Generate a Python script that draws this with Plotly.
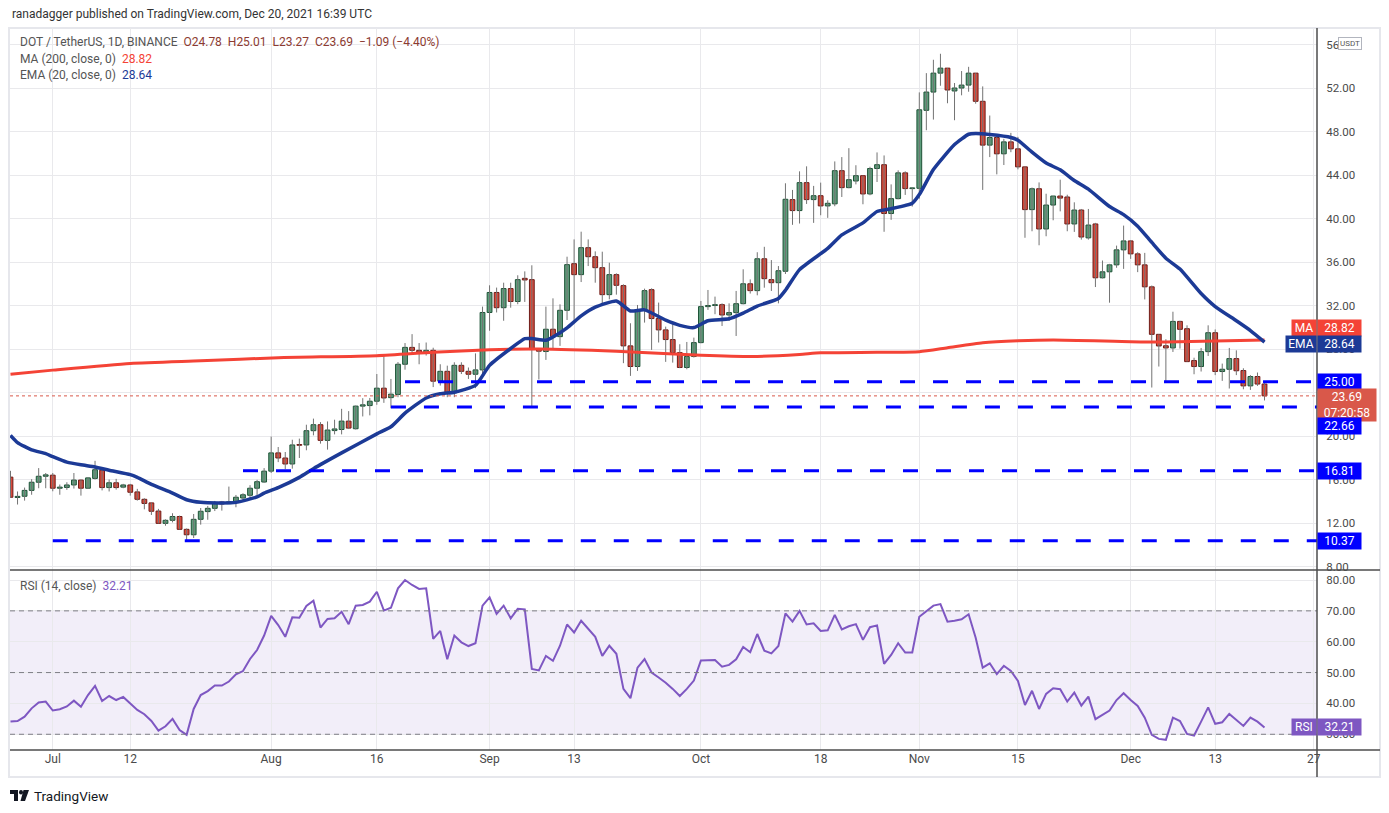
import plotly.graph_objects as go
import pandas as pd

# ---------------- data ----------------
start_date = "2021-06-25"
n_days = 179
dates = pd.date_range(start_date, periods=n_days, freq="D")

opens = [16.22, 14.35, 14.46, 15.0, 15.75, 16.3, 16.4, 15.2, 15.27, 15.5,
         15.95, 15.2, 16.1, 16.86, 15.26, 15.7, 15.3, 15.5, 14.86, 14.18,
         13.85, 13.1, 11.97, 12.25, 12.6, 11.42, 10.92, 12.34, 13.05, 13.35,
         13.93, 13.78, 13.9, 14.3, 14.55, 15.2, 15.77, 16.77, 18.45, 17.98,
         17.43, 19.2, 19.18, 20.49, 21.04, 19.6, 20.5, 20.6, 21.37, 20.67,
         22.75, 22.8, 23.2, 24.4, 23.53, 23.82, 26.6, 28.15, 27.88, 27.7,
         27.88, 25.04, 25.95, 23.97, 26.5, 25.95, 25.68, 26.08, 31.36, 33.2,
         31.8, 33.56, 32.37, 34.5, 34.38, 27.97, 27.77, 29.82, 29.14, 31.56,
         35.85, 34.84, 37.32, 36.49, 35.48, 33.0, 34.84, 33.83, 28.29, 26.39,
         31.62, 33.46, 30.8, 29.76, 28.87, 27.67, 26.3, 27.31, 28.59, 31.9,
         32.0, 32.08, 31.13, 31.35, 32.17, 34.0, 33.37, 36.3, 34.38, 34.1,
         35.15, 41.74, 40.73, 43.3, 41.74, 42.1, 41.16, 41.35, 44.4, 42.84,
         43.45, 43.94, 42.26, 44.6, 44.95, 40.46, 41.83, 44.2, 42.75, 42.78,
         49.95, 51.63, 53.37, 53.83, 51.73, 52.0, 52.27, 53.37, 50.78, 46.75,
         47.45, 45.95, 47.05, 46.41, 44.75, 40.82, 42.74, 39.04, 41.24, 42.07,
         41.98, 39.5, 40.78, 38.22, 39.5, 34.55, 35.1, 35.74, 37.12, 37.94,
         36.75, 35.74, 33.72, 29.35, 28.3, 28.1, 30.54, 29.87, 26.94, 26.39,
         27.76, 29.5, 25.93, 26.14, 27.12, 26.02, 24.61, 25.47, 24.78]
highs = [16.8, 14.9, 15.26, 16.03, 17.05, 16.6, 16.6, 15.54, 15.75, 16.6,
         16.0, 16.2, 17.72, 16.9, 16.0, 16.06, 15.6, 15.6, 15.14, 14.28,
         13.85, 13.3, 12.34, 12.9, 12.68, 11.5, 12.83, 13.38, 13.57, 14.03,
         14.03, 15.35, 14.58, 14.74, 15.48, 15.97, 17.05, 19.95, 18.99, 18.53,
         19.66, 19.76, 21.04, 21.6, 21.28, 21.34, 21.5, 22.5, 22.29, 22.8,
         23.48, 23.5, 25.7, 27.45, 25.25, 26.8, 28.55, 29.37, 28.55, 28.6,
         28.12, 26.6, 26.47, 26.78, 26.78, 26.3, 27.6, 31.9, 33.86, 33.65,
         34.1, 34.1, 34.78, 35.14, 35.7, 28.0, 31.9, 32.66, 32.11, 36.49,
         38.08, 38.79, 38.08, 36.98, 36.95, 35.94, 34.96, 33.95, 30.37, 32.05,
         33.55, 33.58, 32.27, 30.06, 30.28, 28.44, 28.65, 29.05, 32.42, 33.43,
         32.82, 32.2, 32.2, 33.34, 35.33, 34.4, 36.9, 37.4, 36.18, 35.63,
         43.24, 42.63, 44.34, 44.8, 43.0, 43.3, 41.68, 45.25, 45.65, 46.47,
         44.9, 43.94, 44.76, 46.08, 45.8, 43.14, 44.43, 44.34, 42.84, 51.6,
         53.37, 54.6, 55.15, 53.83, 52.46, 53.56, 53.95, 53.37, 52.15, 49.47,
         47.63, 47.33, 47.88, 47.51, 44.76, 42.85, 43.32, 42.28, 42.07, 43.57,
         42.19, 41.49, 40.88, 40.88, 39.6, 36.14, 35.83, 37.51, 39.35, 38.0,
         36.9, 36.84, 33.84, 29.35, 28.9, 31.43, 30.6, 30.18, 27.2, 28.1,
         30.18, 29.8, 26.66, 28.1, 27.88, 26.23, 25.6, 25.84, 25.01]
lows = [14.3, 13.7, 14.06, 14.6, 15.2, 15.2, 14.92, 14.6, 15.05, 15.17,
        14.52, 15.14, 16.0, 15.0, 14.9, 15.07, 15.2, 14.52, 14.06, 13.26,
        12.74, 11.97, 11.75, 12.06, 11.42, 10.43, 10.62, 11.85, 12.3, 13.1,
        13.14, 13.75, 13.45, 13.97, 14.26, 14.42, 15.7, 16.6, 17.6, 16.95,
        17.0, 17.98, 18.69, 20.06, 19.3, 18.75, 20.15, 20.15, 20.64, 20.6,
        21.8, 21.9, 22.87, 23.05, 22.56, 23.57, 26.1, 27.54, 26.6, 27.4,
        24.5, 24.64, 23.57, 23.57, 25.7, 25.25, 24.4, 25.7, 29.68, 31.36,
        30.6, 31.8, 32.12, 32.33, 22.7, 25.2, 27.0, 28.04, 28.29, 30.67,
        30.67, 34.16, 35.63, 34.1, 32.2, 32.57, 33.0, 26.7, 25.53, 25.99,
        30.43, 27.92, 28.6, 26.82, 26.75, 26.24, 26.14, 27.22, 28.53, 31.6,
        31.2, 30.12, 30.58, 29.2, 32.11, 33.1, 32.94, 33.64, 33.34, 32.2,
        34.9, 39.42, 39.54, 41.34, 39.6, 40.3, 40.06, 41.13, 41.98, 42.78,
        43.14, 41.31, 42.14, 43.36, 38.78, 39.88, 41.77, 42.17, 41.1, 41.83,
        48.12, 49.1, 52.21, 50.6, 49.04, 51.33, 51.66, 50.56, 42.63, 45.65,
        44.06, 44.92, 46.1, 44.52, 38.23, 38.83, 37.54, 38.37, 39.84, 40.66,
        38.83, 38.77, 38.06, 38.06, 33.7, 34.49, 32.26, 35.47, 35.37, 36.29,
        35.07, 32.56, 24.46, 26.39, 24.92, 27.73, 28.04, 26.84, 25.68, 25.93,
        27.36, 25.6, 25.07, 24.37, 25.6, 24.3, 24.24, 24.61, 23.27]
closes = [14.37, 14.45, 15.0, 15.75, 16.3, 16.43, 15.2, 15.3, 15.5, 15.95,
          15.2, 16.15, 16.9, 15.26, 15.7, 15.26, 15.5, 14.83, 14.18, 13.8,
          13.08, 11.97, 12.25, 12.6, 11.42, 10.92, 12.34, 13.08, 13.35, 13.82,
          13.75, 13.95, 14.37, 14.6, 15.2, 15.8, 16.77, 18.45, 17.98, 17.43,
          19.18, 19.15, 20.49, 21.04, 19.6, 20.55, 20.65, 21.37, 20.73, 22.75,
          22.87, 23.2, 24.4, 23.5, 23.85, 26.6, 28.15, 27.88, 27.7, 27.88,
          25.04, 25.95, 23.97, 26.5, 25.95, 25.68, 26.08, 31.36, 33.2, 31.8,
          33.56, 32.37, 34.38, 34.35, 27.95, 27.8, 29.82, 29.14, 31.56, 35.76,
          34.84, 37.32, 36.49, 35.48, 33.0, 34.84, 33.86, 28.29, 26.39, 31.62,
          33.37, 30.8, 29.76, 28.87, 27.67, 26.3, 27.31, 28.59, 31.9, 32.0,
          32.08, 31.13, 31.35, 32.17, 34.0, 33.37, 36.3, 34.47, 34.1, 35.2,
          41.77, 40.73, 43.3, 41.74, 42.1, 41.16, 41.4, 44.4, 42.84, 43.57,
          43.94, 42.26, 44.6, 44.95, 40.46, 41.83, 44.2, 42.75, 42.8, 50.0,
          51.63, 53.37, 53.83, 51.82, 52.0, 52.27, 53.37, 50.78, 46.75, 47.45,
          45.95, 47.05, 46.41, 44.75, 40.82, 42.74, 39.04, 41.24, 42.07, 41.88,
          39.5, 40.78, 38.3, 39.4, 34.55, 35.1, 35.74, 37.12, 37.94, 36.75,
          35.74, 33.72, 29.35, 28.28, 28.1, 30.54, 29.81, 26.84, 26.39, 27.76,
          29.5, 25.93, 26.14, 27.12, 26.0, 24.61, 25.47, 24.78, 23.69]

# EMA(20) readings: day offset from start -> value
ema_idx = [0, 1, 3, 5, 6, 8, 10, 12, 14, 17, 18, 20, 23, 25, 27, 30, 32, 35, 36, 38,
           41, 43, 47, 52, 54, 56, 59, 61, 63, 66, 68, 71, 73, 74, 76, 77, 79, 81, 83, 86,
           88, 90, 93, 95, 97, 99, 102, 104, 106, 109, 110, 112, 116, 118, 121, 123, 125,
           128, 129, 131, 134, 136, 137, 139, 142, 143, 145, 147, 149, 151, 153, 156, 158,
           160, 162, 164, 166, 169, 171, 174, 176, 178]
ema_val = [20.06, 19.4, 18.72, 18.38, 18.1, 17.6, 17.35, 17.16, 16.86, 16.45, 16.2, 15.55,
           14.75, 14.14, 13.9, 13.85, 13.9, 14.4, 14.75, 15.25, 16.2, 17.0, 18.45, 20.2,
           20.85, 22.1, 23.5, 23.88, 24.03, 24.65, 26.5, 28.05, 28.95, 28.96, 28.8, 29.1,
           29.95, 31.05, 31.85, 32.42, 31.5, 31.6, 30.65, 30.18, 29.97, 30.6, 30.78, 31.3,
           31.95, 32.65, 33.4, 35.3, 37.25, 38.5, 39.6, 40.65, 40.9, 41.4, 42.2, 44.5,
           46.8, 47.75, 47.82, 47.72, 47.45, 47.2, 46.1, 45.1, 44.48, 43.5, 42.7, 41.1,
           40.36, 39.3, 37.8, 36.35, 35.35, 33.1, 31.9, 30.6, 29.7, 28.64]

# MA(200) readings
ma_idx = [0, 6, 17, 27, 38, 52, 60, 68, 75, 86, 98, 106, 112, 115, 123, 129, 133, 138,
          143, 148, 159, 164, 178]
ma_val = [25.69, 26.06, 26.68, 26.92, 27.2, 27.39, 27.7, 27.94, 28.0, 27.8, 27.43, 27.32,
          27.5, 27.65, 27.7, 27.76, 28.12, 28.57, 28.75, 28.83, 28.68, 28.65, 28.82]

rsi = [34.1, 34.3, 35.7, 38.4, 40.3, 40.6, 37.7, 38.1, 39.0, 40.9,
       38.9, 42.7, 45.7, 40.8, 42.4, 41.1, 42.1, 40.0, 37.9, 36.5,
       34.3, 31.2, 32.6, 35.0, 31.4, 29.8, 38.2, 42.7, 44.0, 45.8,
       45.8, 47.1, 49.4, 50.5, 54.4, 57.3, 62.0, 68.4, 65.4, 61.6,
       67.9, 67.8, 71.6, 73.3, 64.6, 67.4, 67.6, 69.7, 65.7, 71.7,
       71.9, 73.0, 76.2, 70.1, 71.0, 77.3, 80.0, 78.4, 77.1, 77.3,
       60.9, 63.5, 54.3, 62.0, 59.8, 58.6, 59.5, 71.7, 74.4, 69.0,
       71.7, 67.6, 70.7, 70.5, 51.2, 50.7, 55.4, 53.8, 58.7, 65.6,
       63.0, 66.8, 64.3, 61.6, 55.4, 58.7, 56.1, 44.7, 41.7, 51.6,
       54.4, 50.0, 48.4, 46.7, 44.7, 42.4, 44.7, 47.4, 53.9, 54.0,
       54.1, 51.9, 52.5, 54.3, 58.3, 56.6, 62.5, 57.1, 56.2, 58.6,
       69.2, 66.5, 70.0, 65.6, 66.0, 63.5, 63.7, 68.7, 64.0, 65.0,
       65.7, 60.6, 64.7, 65.3, 52.8, 55.7, 59.5, 56.5, 56.5, 68.1,
       70.0, 71.7, 72.2, 66.5, 66.8, 67.3, 68.9, 61.3, 51.6, 53.0,
       49.5, 52.2, 50.5, 47.3, 39.5, 44.1, 38.2, 43.1, 44.9, 44.6,
       40.6, 43.5, 39.3, 42.2, 34.9, 36.3, 37.7, 41.1, 43.3, 41.1,
       39.2, 35.4, 29.8, 28.5, 28.2, 35.4, 34.3, 30.1, 29.6, 34.1,
       38.7, 33.4, 33.9, 36.6, 34.6, 32.7, 35.4, 34.1, 32.21]

levels = [25.00, 22.66, 16.81, 10.37]
level_start = ["2021-08-20", "2021-08-18", "2021-07-28", "2021-07-01"]

x_tickvals = ["2021-07-01", "2021-07-12", "2021-08-01", "2021-08-16", "2021-09-01",
              "2021-09-13", "2021-10-01", "2021-10-18", "2021-11-01", "2021-11-15",
              "2021-12-01", "2021-12-13", "2021-12-27"]
x_ticktext = ["Jul", "12", "Aug", "16", "Sep", "13", "Oct", "18", "Nov", "15", "Dec", "13", "27"]
price_ticks = [8, 12, 16, 20, 24, 28, 32, 36, 40, 44, 48, 52, 56]
rsi_ticks = [30, 40, 50, 60, 70, 80]
countdown = "07:20:58"

# ---------------- styling ----------------
PAGE_PAD = 8                       # default body margin of the html page
W, H = 1389 - PAGE_PAD, 813 - PAGE_PAD
# plot-area edges in screen pixels
L_PX, R_PX, T_PX, B_PX = 10, 1317, 28, 750
SPLIT_PX = 570
x_range = ["2021-06-24 22:18", "2021-12-27 10:48"]
price_range = [7.68, 57.52]
rsi_range = [24.9, 83.25]
FONT = "Roboto"

def px_x(x):
    return (x - L_PX) / (R_PX - L_PX)

def px_y(y):
    return (B_PX - y) / (B_PX - T_PX)

split = px_y(SPLIT_PX)

UP_FILL, UP_LINE = "#5d9d7b", "#1d5236"
DN_FILL, DN_LINE = "#d84a3b", "#6e1b17"
WICK = "#737373"
MA_COL = "#f44336"
EMA_COL = "#1c3a96"
LVL_COL = "#0000ff"
RSI_COL = "#7e57c2"
GRID = "#e9e9ec"
DARK = "#4d4d4d"

fig = go.Figure()

# wicks
wx, wy = [], []
for d, h, l in zip(dates, highs, lows):
    wx += [d, d, None]
    wy += [l, h, None]
fig.add_trace(go.Scatter(x=wx, y=wy, mode="lines", line=dict(color=WICK, width=1),
                         hoverinfo="skip", showlegend=False, xaxis="x", yaxis="y"))

# bodies
base = [min(o, c) for o, c in zip(opens, closes)]
height = [max(abs(c - o), 0.07) for o, c in zip(opens, closes)]
fills = [UP_FILL if c >= o else DN_FILL for o, c in zip(opens, closes)]
borders = [UP_LINE if c >= o else DN_LINE for o, c in zip(opens, closes)]
fig.add_trace(go.Bar(x=dates, y=height, base=base, width=0.68 * 86400000,
                     marker=dict(color=fills, line=dict(color=borders, width=1)),
                     showlegend=False, xaxis="x", yaxis="y"))

# MA 200 and EMA 20
fig.add_trace(go.Scatter(x=[dates[i] for i in ma_idx], y=ma_val, mode="lines",
                         line=dict(color=MA_COL, width=3, shape="spline", smoothing=0.6),
                         showlegend=False, xaxis="x", yaxis="y"))
fig.add_trace(go.Scatter(x=[dates[i] for i in ema_idx], y=ema_val, mode="lines",
                         line=dict(color=EMA_COL, width=3.5, shape="spline", smoothing=0.5),
                         showlegend=False, xaxis="x", yaxis="y"))

# horizontal levels
for lv, st in zip(levels, level_start):
    fig.add_trace(go.Scatter(x=[st, x_range[1]], y=[lv, lv], mode="lines",
                             line=dict(color=LVL_COL, width=3, dash="15px,18px"),
                             showlegend=False, xaxis="x", yaxis="y"))

# RSI
fig.add_trace(go.Scatter(x=dates, y=rsi, mode="lines", line=dict(color=RSI_COL, width=2),
                         showlegend=False, xaxis="x2", yaxis="y2"))

shapes = []
shapes.append(dict(type="rect", xref="paper", yref="y2", x0=0, x1=1, y0=30, y1=70,
                   fillcolor="rgba(126,87,194,0.10)", line=dict(width=0), layer="below"))
for v in [70, 50, 30]:
    shapes.append(dict(type="line", xref="paper", yref="y2", x0=0, x1=1, y0=v, y1=v,
                       line=dict(color="#7d7d85", width=1, dash="5px,4px")))
shapes.append(dict(type="line", xref="paper", yref="y", x0=0, x1=1,
                   y0=closes[-1], y1=closes[-1],
                   line=dict(color="#d9584a", width=1, dash="dot")))
shapes.append(dict(type="rect", xref="paper", yref="paper", x0=px_x(9), x1=px_x(1380),
                   y0=px_y(777), y1=px_y(28), line=dict(color="#e6e7ec", width=2),
                   fillcolor="rgba(0,0,0,0)", layer="below"))
for yy in [SPLIT_PX, B_PX]:
    shapes.append(dict(type="line", xref="paper", yref="paper", x0=px_x(10), x1=px_x(1380),
                       y0=px_y(yy), y1=px_y(yy), line=dict(color=DARK, width=1.5)))
shapes.append(dict(type="line", xref="paper", yref="paper", x0=1, x1=1,
                   y0=px_y(777), y1=px_y(28), line=dict(color=DARK, width=1.5)))

def prect(x0, y0, x1, y1):
    return dict(type="rect", xref="paper", yref="paper", x0=px_x(x0), x1=px_x(x1),
                y0=px_y(y1), y1=px_y(y0), fillcolor="#131722", line=dict(width=0))
shapes.append(prect(10, 790, 18, 794))
shapes.append(prect(14, 790, 18, 801))
shapes.append(dict(type="circle", xref="paper", yref="paper", x0=px_x(19), x1=px_x(23),
                   y0=px_y(794.5), y1=px_y(790), fillcolor="#131722", line=dict(width=0)))
shapes.append(dict(type="path", xref="paper", yref="paper",
                   path=f"M {px_x(23.5)},{px_y(790)} L {px_x(29)},{px_y(790)} "
                        f"L {px_x(25)},{px_y(801)} L {px_x(20.5)},{px_y(801)} Z",
                   fillcolor="#131722", line=dict(width=0)))

ann = []
NB = "\u00a0"
ann.append(dict(xref="paper", yref="paper", x=px_x(10), y=px_y(14), xanchor="left",
                yanchor="middle", showarrow=False,
                text="ranadagger published on TradingView.com, Dec 20, 2021 16:39 UTC",
                font=dict(family=FONT, size=12, color="#333333")))
chg = closes[-1] - closes[-2]
pct = chg / closes[-2] * 100
val_col = "#8c3b31"
ohlc = (f"<span style='color:{val_col}'>O{opens[-1]:.2f}{NB}{NB}H{highs[-1]:.2f}{NB}{NB}"
        f"L{lows[-1]:.2f}{NB}{NB}C{closes[-1]:.2f}{NB}{NB}"
        f"\u2212{abs(chg):.2f} (\u2212{abs(pct):.2f}%)</span>")
ann.append(dict(xref="paper", yref="paper", x=px_x(18), y=px_y(42), xanchor="left",
                yanchor="middle", showarrow=False,
                text=f"DOT / TetherUS, 1D, BINANCE{NB}{NB}" + ohlc,
                font=dict(family=FONT, size=12, color="#555555")))
ann.append(dict(xref="paper", yref="paper", x=px_x(18), y=px_y(59), xanchor="left",
                yanchor="middle", showarrow=False,
                text=f"MA (200, close, 0){NB}{NB}<span style='color:{MA_COL}'>{ma_val[-1]:.2f}</span>",
                font=dict(family=FONT, size=12, color="#555555")))
ann.append(dict(xref="paper", yref="paper", x=px_x(18), y=px_y(75), xanchor="left",
                yanchor="middle", showarrow=False,
                text=f"EMA (20, close, 0){NB}{NB}<span style='color:{EMA_COL}'>{ema_val[-1]:.2f}</span>",
                font=dict(family=FONT, size=12, color="#555555")))
ann.append(dict(xref="paper", yref="paper", x=px_x(18), y=px_y(586), xanchor="left",
                yanchor="middle", showarrow=False,
                text=f"RSI (14, close){NB}{NB}<span style='color:{RSI_COL}'>{rsi[-1]:.2f}</span>",
                font=dict(family=FONT, size=12, color="#555555")))
ann.append(dict(xref="paper", yref="paper", x=px_x(32), y=px_y(796), xanchor="left",
                yanchor="middle", showarrow=False, text="TradingView",
                font=dict(family=FONT, size=13.5, color="#131722")))
ann.append(dict(xref="paper", yref="paper", x=px_x(1350), y=px_y(43), xanchor="center",
                yanchor="middle", showarrow=False, text="USDT", bgcolor="white",
                bordercolor="#b2b5be", borderwidth=1, borderpad=1,
                font=dict(family=FONT, size=8, color="#555555")))

def price_box(yv, text, color, yref="y", yshift=0, anchor="middle", w=41):
    ann.append(dict(xref="paper", yref=yref, x=1, y=yv, xanchor="left", yanchor=anchor,
                    showarrow=False, text=text, bgcolor=color, width=w, borderpad=1,
                    yshift=yshift, align="center",
                    font=dict(family=FONT, size=12, color="white")))

def name_box(yv, text, color, w, yref="y", yshift=0):
    ann.append(dict(xref="paper", yref=yref, x=1, y=yv, xanchor="right", yanchor="middle",
                    showarrow=False, text=text, bgcolor=color, width=w, borderpad=1,
                    yshift=yshift, align="center",
                    font=dict(family=FONT, size=12, color="white")))

price_box(ma_val[-1], f"{ma_val[-1]:.2f}", MA_COL, yshift=12.5)
name_box(ma_val[-1], "MA", MA_COL, 22, yshift=12.5)
price_box(ema_val[-1], f"{ema_val[-1]:.2f}", EMA_COL, yshift=-2)
name_box(ema_val[-1], "EMA", EMA_COL, 28, yshift=-2)
price_box(levels[0], f"{levels[0]:.2f}", LVL_COL)
price_box(closes[-1], f"{closes[-1]:.2f}<br>{countdown}", "#d9584a", yshift=8, anchor="top", w=56)
price_box(levels[1], f"{levels[1]:.2f}", LVL_COL, yshift=-19)
price_box(levels[2], f"{levels[2]:.2f}", LVL_COL)
price_box(levels[3], f"{levels[3]:.2f}", LVL_COL)
price_box(rsi[-1], f"{rsi[-1]:.2f}", RSI_COL, yref="y2")
name_box(rsi[-1], "RSI", RSI_COL, 22, yref="y2")

tick_font = dict(family=FONT, size=11.5, color="#4a4a4a")
fig.update_layout(
    width=W, height=H,
    margin=dict(l=L_PX - PAGE_PAD, r=(W + PAGE_PAD) - R_PX, t=T_PX - PAGE_PAD,
                b=(H + PAGE_PAD) - B_PX),
    paper_bgcolor="white", plot_bgcolor="white",
    showlegend=False, hovermode=False,
    xaxis=dict(domain=[0, 1], anchor="y", range=x_range, type="date",
               tickvals=x_tickvals, ticktext=x_ticktext, showticklabels=False,
               showgrid=True, gridcolor=GRID, zeroline=False, showline=False),
    xaxis2=dict(domain=[0, 1], anchor="y2", range=x_range, type="date",
                tickvals=x_tickvals, ticktext=x_ticktext, showticklabels=True,
                tickfont=dict(family=FONT, size=12, color="#4a4a4a"),
                showgrid=True, gridcolor=GRID, zeroline=False, showline=False, ticks=""),
    yaxis=dict(domain=[split, 1], anchor="x", side="right", range=price_range,
               tickvals=price_ticks, ticktext=[f"{v:.2f}" for v in price_ticks],
               tickfont=tick_font, showgrid=True, gridcolor=GRID, zeroline=False,
               ticks="outside", ticklen=6, tickcolor="rgba(0,0,0,0)"),
    yaxis2=dict(domain=[0, split], anchor="x2", side="right", range=rsi_range,
                tickvals=rsi_ticks, ticktext=[f"{v:.2f}" for v in rsi_ticks],
                tickfont=tick_font, showgrid=True, gridcolor=GRID, zeroline=False,
                ticks="outside", ticklen=6, tickcolor="rgba(0,0,0,0)"),
    shapes=shapes, annotations=ann,
)

fig.write_html("out.html")
